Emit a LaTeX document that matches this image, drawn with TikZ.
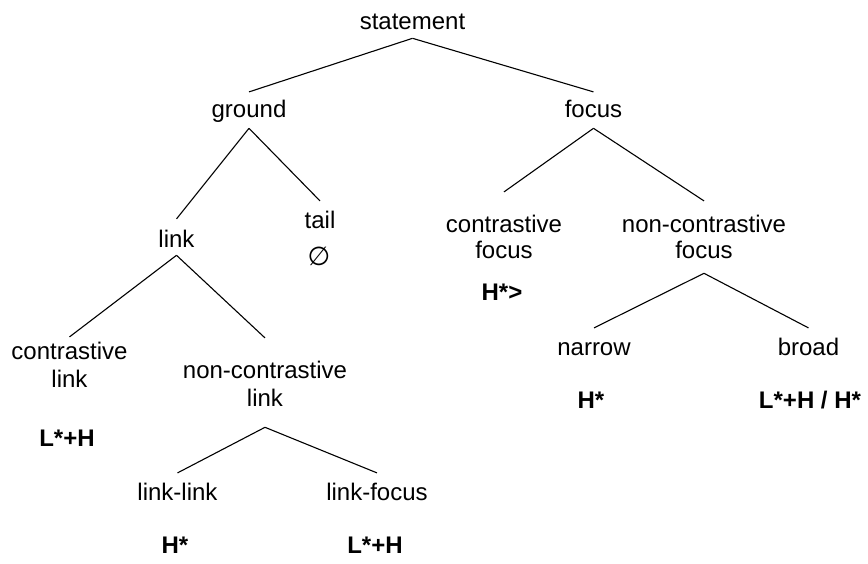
\documentclass[tikz,border=0pt]{standalone}
\usepackage{fontspec}
\setmainfont{Liberation Sans}
\newfontfamily\symfont{DejaVu Sans}
\begin{document}
\begin{tikzpicture}[x=1pt,y=-1pt,
  every node/.style={inner sep=0pt, anchor=base, font=\fontsize{24}{27}\selectfont},
  cat/.style={},
  tone/.style={font=\fontsize{24}{27}\selectfont\bfseries},
  branch/.style={line width=1.1pt}]
\useasboundingbox (0,0) rectangle (868,563);

% category labels (placed at the baseline of their first line)
\node[cat] (statement) at (412.5,29) {\strut statement};
\node[cat] (ground)    at (249,117)  {\strut ground};
\node[cat] (focus)     at (593.5,117) {\strut focus};
\node[cat] (link)      at (176.5,247) {\strut link};
\node[cat] (tail)      at (320,228)  {\strut tail};
\node[cat] (cl)        at (69.5,359) {\begin{tabular}[t]{@{}c@{}}contrastive\\[1pt]link\end{tabular}};
\node[cat] (ncl)       at (265,378)  {\begin{tabular}[t]{@{}c@{}}non-contrastive\\[1pt]link\end{tabular}};
\node[cat] (linklink)  at (177.5,500) {\strut link-link};
\node[cat] (linkfocus) at (377,500)  {\strut link-focus};
\node[cat] (cf)        at (504,232)  {\begin{tabular}[t]{@{}c@{}}contrastive\\[-1pt]focus\end{tabular}};
\node[cat] (ncf)       at (704,232)  {\begin{tabular}[t]{@{}c@{}}non-contrastive\\[-1pt]focus\end{tabular}};
\node[cat] (narrow)    at (594,355)  {\strut narrow};
\node[cat] (broad)     at (808.5,355) {\strut broad};

% empty realisation of the tail
\node[anchor=center, font=\fontsize{26}{28}\symfont] (tailz) at (319,256) {∅};

% pitch accents
\node[tone] (tcl)  at (67,446)  {L*+H};
\node[tone] (tcf)  at (502,300) {H*>};
\node[tone] (tnar) at (591,408) {H*};
\node[tone] (tbro) at (810,408) {L*+H / H*};
\node[tone] (tll)  at (175,553) {H*};
\node[tone] (tlf)  at (375,553) {L*+H};

% branches
\draw[branch] ([yshift=-1pt]statement.south) -- ([yshift=6pt]ground.north);
\draw[branch] ([yshift=-1pt]statement.south) -- ([yshift=6pt]focus.north);
\draw[branch] ([yshift=-3pt]ground.south) -- ([yshift=9pt]link.north);
\draw[branch] ([yshift=-3pt]ground.south) -- ([yshift=8pt]tail.north);
\draw[branch] (link.south) -- ([yshift=3pt]cl.north);
\draw[branch] (link.south) -- ([yshift=21pt]ncl.north);
\draw[branch] ([yshift=-13pt]ncl.south) -- ([yshift=8pt]linklink.north);
\draw[branch] ([yshift=-13pt]ncl.south) -- ([yshift=8pt]linkfocus.north);
\draw[branch] ([yshift=-3pt]focus.south) -- ([yshift=21pt]cf.north);
\draw[branch] ([yshift=-3pt]focus.south) -- ([yshift=12pt]ncf.north);
\draw[branch] ([yshift=-7pt]ncf.south) -- ([yshift=8pt]narrow.north);
\draw[branch] ([yshift=-7pt]ncf.south) -- ([yshift=8pt]broad.north);
\end{tikzpicture}
\end{document}
